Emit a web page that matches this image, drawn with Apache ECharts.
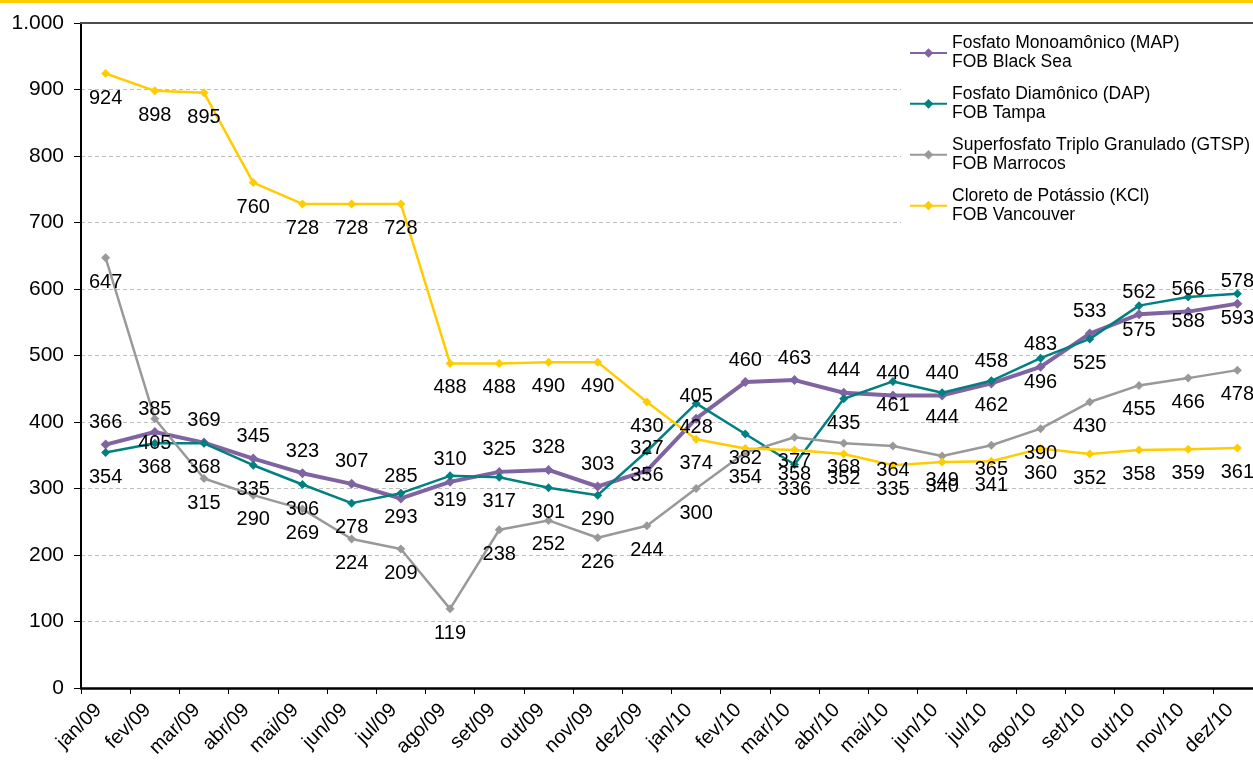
<!DOCTYPE html>
<html>
<head>
<meta charset="utf-8">
<script src="https://cdn.jsdelivr.net/npm/echarts@6/dist/echarts.min.js"></script>
<style>
html,body{margin:0;padding:0;background:#fff;}
#chart{width:1253px;height:764px;}
</style>
</head>
<body>
<div id="chart"></div>
<script>
const categories = ['jan/09','fev/09','mar/09','abr/09','mai/09','jun/09','jul/09','ago/09','set/09','out/09','nov/09','dez/09',
  'jan/10','fev/10','mar/10','abr/10','mai/10','jun/10','jul/10','ago/10','set/10','out/10','nov/10','dez/10'];
const mapValues  = [366,385,369,345,323,307,285,310,325,328,303,327,405,460,463,444,440,440,458,483,533,562,566,578];
const dapValues  = [354,368,368,335,306,278,293,319,317,301,290,356,428,382,336,435,461,444,462,496,525,575,588,593];
const gtspValues = [647,405,315,290,269,224,209,119,238,252,226,244,300,354,377,368,364,349,365,390,430,455,466,478];
const kclValues  = [924,898,895,760,728,728,728,488,488,490,490,430,374,360,358,352,335,340,341,360,352,358,359,361];
const kclHiddenLabels = ['fev/10'];
const seriesNames = [
  'Fosfato Monoamônico (MAP)\nFOB Black Sea',
  'Fosfato Diamônico (DAP)\nFOB Tampa',
  'Superfosfato Triplo Granulado (GTSP)\nFOB Marrocos',
  'Cloreto de Potássio (KCl)\nFOB Vancouver'
];
const yMin = 0, yMax = 1000, yStep = 100;

const FONT = '"Liberation Sans", Arial, sans-serif';
const colors = ['#8064A2', '#008080', '#999999', '#FFCC00'];

function fmtThousands(v) {
  return String(v).replace(/\B(?=(\d{3})+(?!\d))/g, '.');
}

function makeSeries(name, data, color, width, pos, symSize) {
  return {
    name: name,
    type: 'line',
    data: data,
    symbol: 'diamond',
    symbolSize: symSize,
    showAllSymbol: true,
    lineStyle: { color: color, width: width },
    itemStyle: { color: color },
    label: {
      show: true,
      position: pos,
      distance: pos === 'top' ? 7 : 10,
      color: '#000',
      fontSize: 20,
      fontFamily: FONT
    },
    labelLayout: { hideOverlap: false },
    emphasis: { disabled: true },
    animation: false
  };
}

const kclData = kclValues.map((v, i) =>
  kclHiddenLabels.indexOf(categories[i]) >= 0 ? { value: v, label: { show: false } } : v);

const chart = echarts.init(document.getElementById('chart'), null, { renderer: 'canvas' });
chart.setOption({
  animation: false,
  backgroundColor: '#fff',
  textStyle: { fontFamily: FONT },
  graphic: [{
    type: 'rect', left: 0, top: 0, z: 100,
    shape: { width: 1253, height: 3 },
    style: { fill: '#FFCC00' }
  }],
  grid: { left: 81, top: 23, right: -9, bottom: 76, containLabel: false, outerBoundsMode: 'none' },
  legend: {
    orient: 'vertical',
    left: 901,
    top: 20,
    backgroundColor: '#fff',
    padding: [4, 20, 6, 8],
    itemWidth: 37,
    itemHeight: 12,
    itemGap: -7,
    selectedMode: false,
    textStyle: { fontSize: 17.5, lineHeight: 19.3, color: '#000', fontFamily: FONT, padding: [19.3, 0, 0, 0] },
    data: seriesNames
  },
  xAxis: [{
    type: 'category',
    data: categories,
    boundaryGap: true,
    axisLine: { lineStyle: { color: '#000', width: 2.5 } },
    axisTick: { show: true, length: 6, lineStyle: { color: '#000', width: 1 } },
    axisLabel: { rotate: 45, fontSize: 20, color: '#000', margin: 12, interval: 0, fontFamily: FONT, padding: [0, 10, 0, 0] },
    splitLine: { show: false }
  }, {
    type: 'category',
    data: categories,
    position: 'top',
    z: 20,
    axisLine: { lineStyle: { color: '#4d4d4d', width: 2 } },
    axisTick: { show: false },
    axisLabel: { show: false },
    splitLine: { show: false }
  }],
  yAxis: {
    type: 'value',
    min: yMin, max: yMax, interval: yStep,
    axisLine: { show: true, lineStyle: { color: '#000', width: 2 } },
    axisTick: { show: true, inside: false, length: 7, lineStyle: { color: '#000', width: 1 } },
    axisLabel: { fontSize: 21, color: '#000', margin: 17, formatter: fmtThousands, fontFamily: FONT },
    splitLine: { show: true, lineStyle: { color: '#bfbfbf', width: 1, type: [4, 3] } }
  },
  series: [
    makeSeries(seriesNames[0], mapValues, colors[0], 4, 'top', 10),
    makeSeries(seriesNames[1], dapValues, colors[1], 2.5, 'bottom', 9),
    makeSeries(seriesNames[2], gtspValues, colors[2], 2.5, 'bottom', 9),
    makeSeries(seriesNames[3], kclData, colors[3], 2.5, 'bottom', 9)
  ]
});
</script>
</body>
</html>
